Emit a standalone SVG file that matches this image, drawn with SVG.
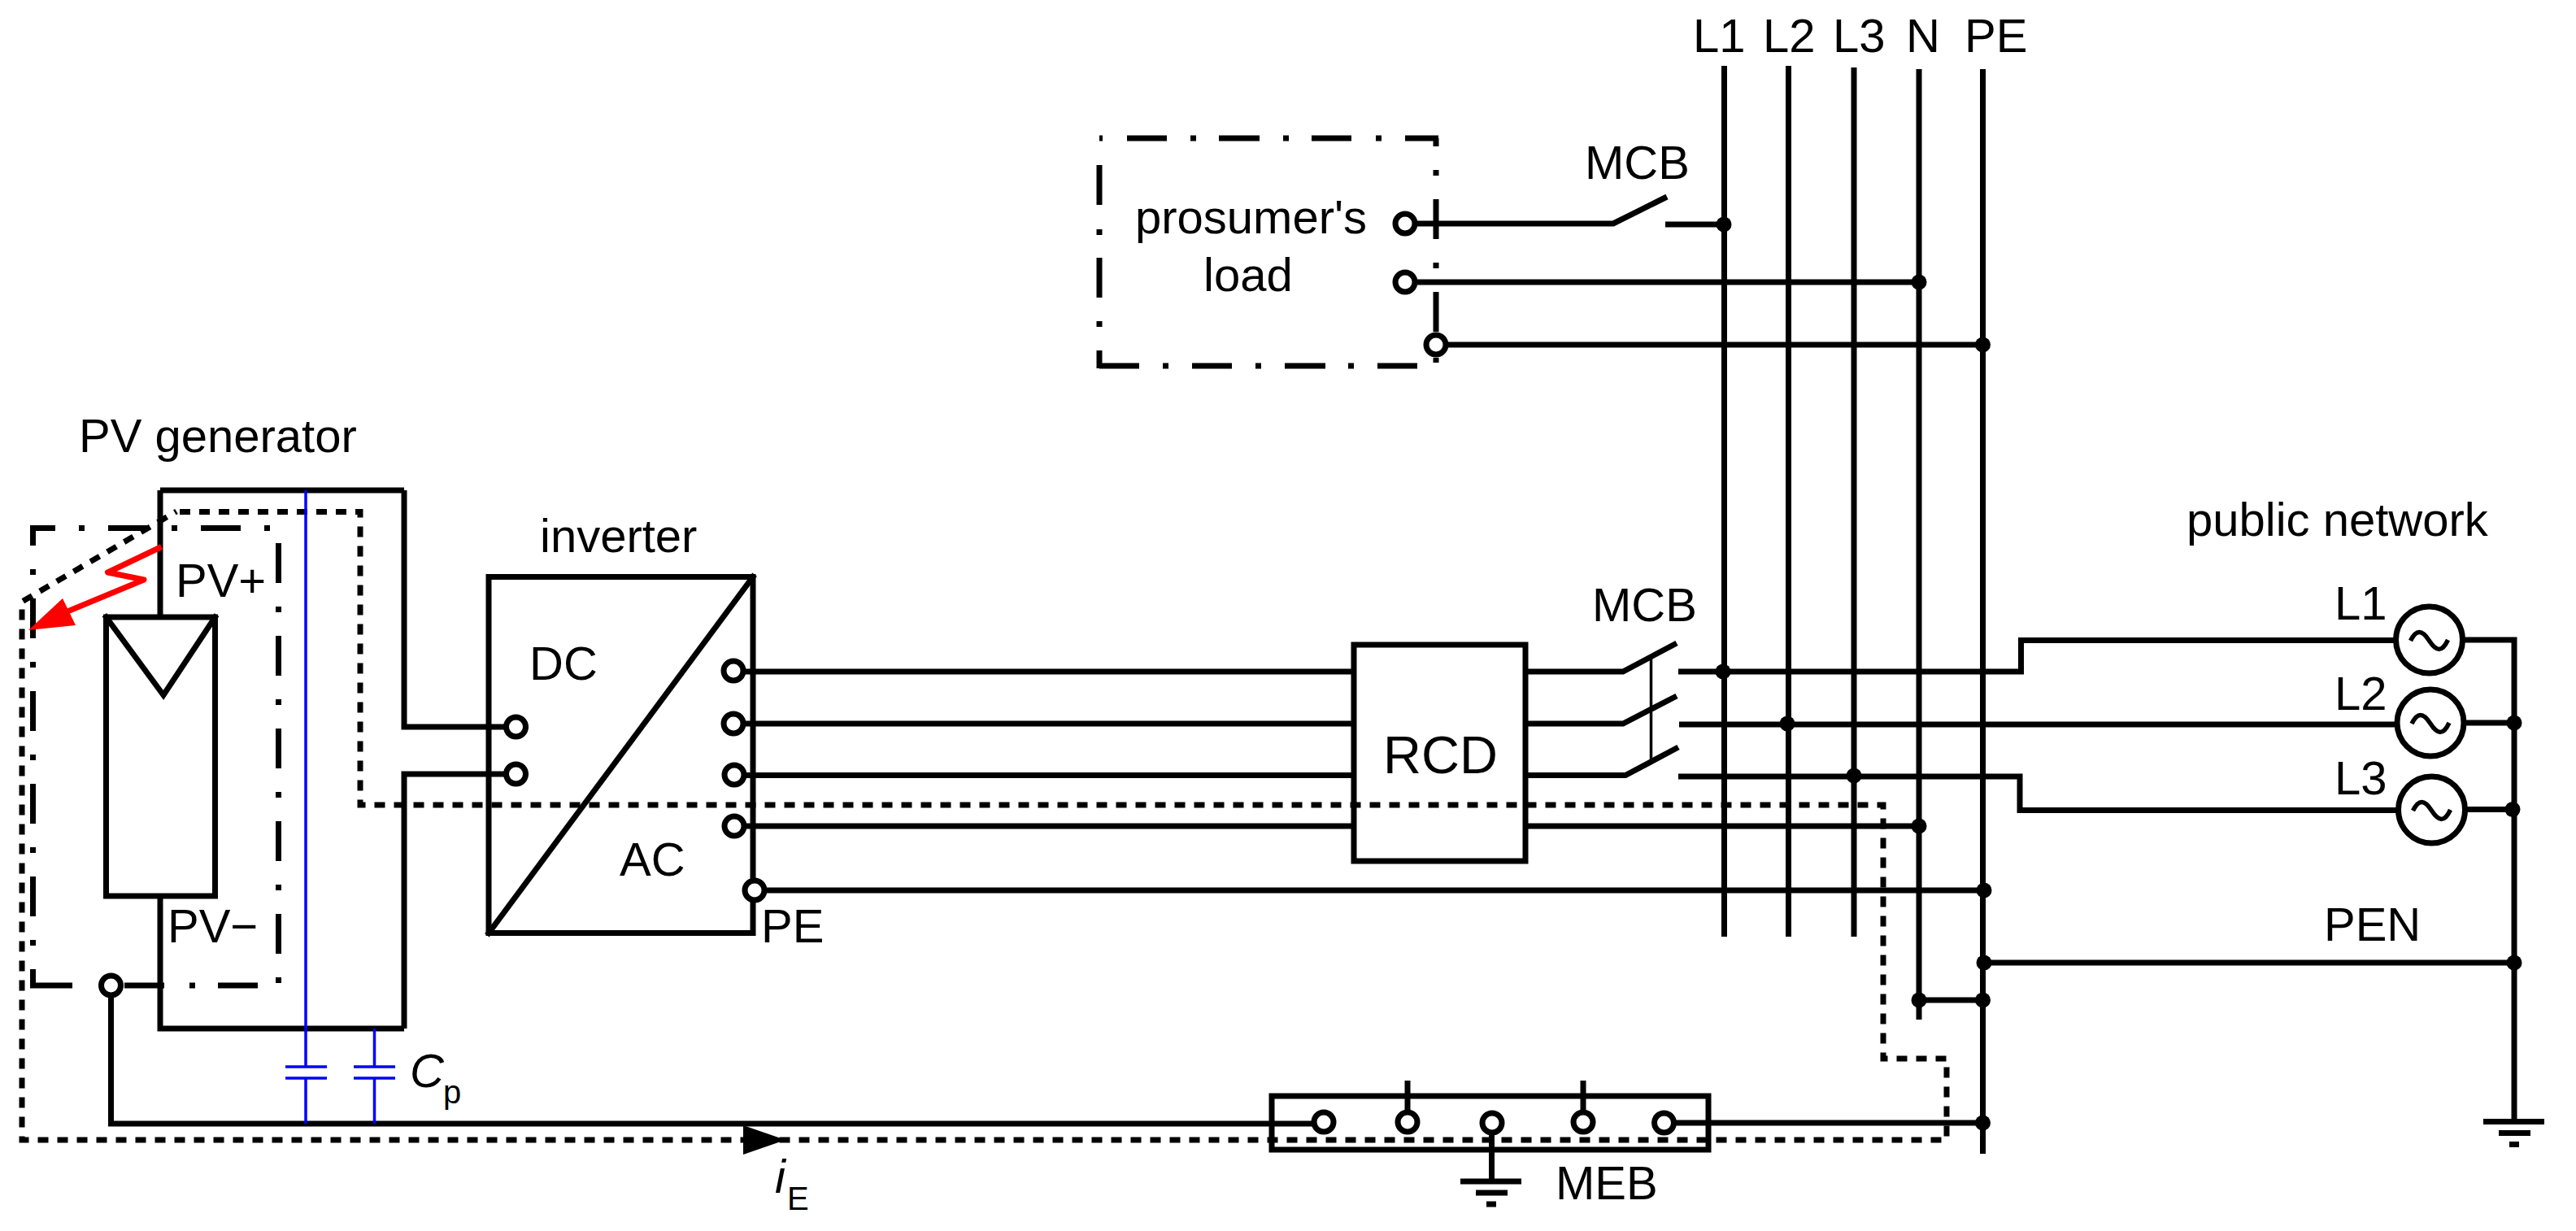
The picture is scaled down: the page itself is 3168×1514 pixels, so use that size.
<svg xmlns="http://www.w3.org/2000/svg" width="3168" height="1514" viewBox="0 0 3168 1514">
<style>
text{font-family:"Liberation Sans",Arial,sans-serif;font-size:58px;fill:#000}
.i{font-style:italic}
.s{font-size:40px}
.l{fill:none;stroke:#000;stroke-width:7;stroke-linecap:square;stroke-linejoin:miter}
.b{fill:none;stroke:#000;stroke-width:7;stroke-linecap:butt}
.d{fill:none;stroke:#000;stroke-width:7;stroke-dasharray:13 11}
.bl{fill:none;stroke:#0000ff;stroke-width:3.5}
.t{fill:#fff;stroke:#000;stroke-width:7}
.j{fill:#000}
.src{fill:#fff;stroke:#000;stroke-width:7}
.sin{fill:none;stroke:#000;stroke-width:5.500}
</style>
<defs>
<circle id="term" r="12" class="t"/>
<circle id="dot" r="9.500" class="j"/>
<path id="sine" class="sin" d="M-23 1C-16 -13 -9 -13 0 1S16 15 23 0"/>
<path id="gnd" class="b" d="M-38 0H37M-19 14H20M-6 28H6"/>
</defs>
<g id="connectors">
<path id="fault-current-path" class="d" d="M221 629.500H443V990H2316V1302H2394V1402H27V740L217 629"/>
<polygon id="fault-current-arrow" class="j" points="914,1384 966,1402 914,1420"/>
<path class="b" d="M497 603V894H634M634 952H497V1265M136.500 1212V1382H1615M2059 1381H2438"/>
<path class="b" d="M902 826H1665M902 890H1665M902 953.500H1665M902 1016H1665M928 1095H2438"/>
<path class="b" d="M1876 826H1996L2062 791M2064 826H2485.500V787.500H2950M1876 890H1996L2062 856M2065 891H2950M1876 953.500H1999L2064 919M2064 955H2484V996.500H2952"/>
<path class="b" d="M1876 1016H2360"/>
<path class="b" style="stroke-width:3.500" d="M2030.500 810V935"/>
<path class="b" d="M1728 275H1984L2050 242M2048 276H2120M1728 347H2360M1766 424H2438"/>
<path class="b" d="M2120.500 81V1152M2199.500 81V1152M2280 83V1152M2360 85V1254M2438.500 85V1419"/>
<path class="b" d="M2360 1230H2438M2438 1184H3092M3030 787H3092V1379M3032 889H3092M3034 995.500H3092"/>
<g class="junctions">
<use href="#dot" x="2120" y="276"/><use href="#dot" x="2360" y="347"/><use href="#dot" x="2438.500" y="424"/>
<use href="#dot" x="2119" y="826"/><use href="#dot" x="2198" y="890"/><use href="#dot" x="2280" y="954"/><use href="#dot" x="2360" y="1016"/>
<use href="#dot" x="2440" y="1095"/><use href="#dot" x="2440" y="1184"/><use href="#dot" x="2360" y="1230"/><use href="#dot" x="2438.500" y="1230"/><use href="#dot" x="2438.500" y="1381"/>
<use href="#dot" x="3092" y="889"/><use href="#dot" x="3090" y="995.500"/><use href="#dot" x="3092" y="1184"/>
</g>
</g>
<g id="pv-generator">
<path class="b" d="M197 603H497M197 603V759M197 1102V1265H497"/>
<rect class="l" x="130.500" y="759" width="134" height="343"/>
<path class="l" d="M130.500 759L201 855L264.500 759"/>
<path id="pv-boundary" class="b" d="M37 649.500H68M97 649.500H104M133 649.500H182M211 649.500H218M247 649.500H296M325 649.500H332M342.500 668V717M342.500 746V753M342.500 782V831M342.500 860V867M342.500 896V945M342.500 974V981M342.500 1010V1059M342.500 1088V1095M342.500 1124V1173M342.500 1202V1209M37 1212H89M153 1212H202M233 1212H240M268 1212H317M40.500 646V671M40.500 700V707M40.500 736V785M40.500 814V821M40.500 850V899M40.500 928V935M40.500 964V1013M40.500 1042V1049M40.500 1078V1127M40.500 1156V1163M40.500 1192V1215"/>
<path id="fault-arc" fill="none" stroke="#ff0000" stroke-width="7" stroke-linejoin="round" d="M198.500 672.500L132.500 704L177 713L83 752"/>
<polygon fill="#ff0000" points="35,775 77,736 93,769"/>
<use href="#term" x="136.500" y="1212"/>
<text x="97" y="556">PV generator</text>
<text x="216" y="734">PV+</text>
<text x="206" y="1159">PV−</text>
</g>
<g id="parasitic-capacitance">
<path class="bl" d="M376 603V1312M376 1326V1382M351 1312H402M351 1326H402M460.500 1265V1312M460.500 1326V1382M435 1312H486M435 1326H486"/>
<text class="i" x="504" y="1337">C</text>
<text class="s" x="545" y="1357">p</text>
</g>
<g id="inverter">
<rect class="l" x="601" y="709.500" width="325" height="438"/>
<path class="l" d="M601 1147.500L926 709.500"/>
<use href="#term" x="634.500" y="894"/><use href="#term" x="634.500" y="952"/>
<use href="#term" x="902" y="825"/><use href="#term" x="902" y="890"/><use href="#term" x="903" y="953"/><use href="#term" x="903" y="1016"/><use href="#term" x="928" y="1095"/>
<text x="664" y="679">inverter</text>
<text x="651" y="836">DC</text>
<text x="762" y="1077">AC</text>
<text x="936" y="1159">PE</text>
</g>
<g id="rcd">
<rect class="l" x="1665" y="793" width="211" height="266"/>
<text x="1701" y="951" style="font-size:65px">RCD</text>
</g>
<g id="mcb-main"><text x="1958" y="764">MCB</text></g>
<g id="load">
<path class="b" d="M1352 170H1356M1386 170H1435M1464 170H1471M1499 170H1549M1578 170H1585M1613 170H1662M1692 170H1699M1728 170H1769M1766 170V180M1766 209V216M1766 245V294M1766 323V330M1766 359V408M1766 440V446M1352 203V252M1352 282V289M1352 317V366M1352 395V402M1352 431V453M1352 450H1401M1430 450H1437M1466 450H1515M1544 450H1551M1580 450H1630M1658 450H1665M1694 450H1743"/>
<use href="#term" x="1728" y="275"/><use href="#term" x="1728" y="347"/><use href="#term" x="1766" y="424"/>
<text x="1396" y="287">prosumer's</text>
<text x="1480" y="358">load</text>
</g>
<g id="mcb-load"><text x="1949" y="220">MCB</text></g>
<g id="bus-labels">
<text x="2082" y="64">L1</text><text x="2168" y="64">L2</text><text x="2254" y="64">L3</text><text x="2344" y="64">N</text><text x="2416" y="64">PE</text>
</g>
<g id="meb">
<rect class="l" x="1564" y="1348" width="537" height="66"/>
<path class="b" d="M1731 1329V1370M1947 1329V1370M1834.500 1390V1453"/>
<use href="#term" x="1628" y="1380"/><use href="#term" x="1731" y="1380"/><use href="#term" x="1835" y="1381"/><use href="#term" x="1947" y="1380"/><use href="#term" x="2046.500" y="1381"/>
<use href="#gnd" x="1834" y="1453"/>
<text x="1913" y="1475">MEB</text>
</g>
<g id="public-network">
<circle class="src" cx="2987.500" cy="787" r="41"/><use href="#sine" x="2987.500" y="787"/>
<circle class="src" cx="2989" cy="889" r="41"/><use href="#sine" x="2989" y="889"/>
<circle class="src" cx="2990.500" cy="996" r="41"/><use href="#sine" x="2990.500" y="996"/>
<use href="#gnd" x="3092" y="1379.500"/>
<text x="2689" y="659">public network</text>
<text x="2871" y="762">L1</text><text x="2871" y="873">L2</text><text x="2871" y="977">L3</text>
<text x="2858" y="1157">PEN</text>
</g>
<g id="current-label">
<text class="i" x="953" y="1467">i</text>
<text class="s" x="968" y="1488">E</text>
</g>
</svg>
